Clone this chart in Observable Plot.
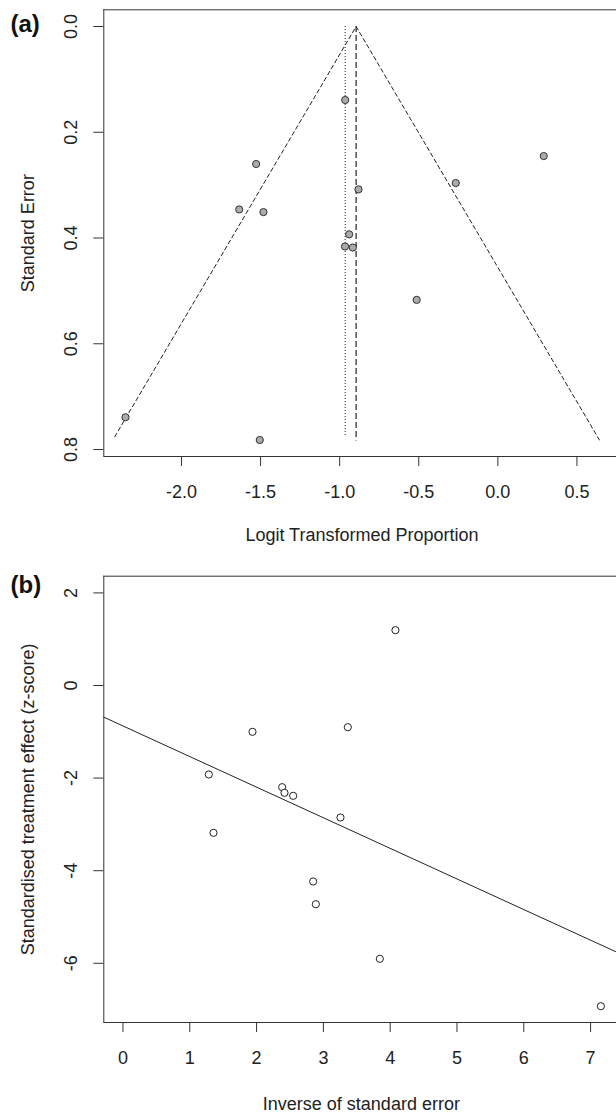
<!DOCTYPE html>
<html><head><meta charset="utf-8">
<script src="https://cdn.jsdelivr.net/npm/d3@7"></script>
<script src="https://cdn.jsdelivr.net/npm/@observablehq/plot@0.6"></script>
<style>
html,body{margin:0;padding:0;background:#fff;}
body{width:616px;height:1115px;overflow:hidden;}
#chart svg{display:block;}
</style></head><body><div id="chart"></div>
<script>
// ---- Panel (a): funnel plot ----
const logitProp = [-1.528, -1.635, -1.482, -0.965, 0.290, -0.266, -0.881, -0.940, -0.966, -0.917, -0.513, -2.354, -1.505];
const stdErr    = [0.260, 0.346, 0.351, 0.139, 0.245, 0.296, 0.308, 0.393, 0.416, 0.418, 0.517, 0.739, 0.782];
const funnelX = [-2.422, -0.896, 0.642];
const funnelY = [0.776, 0, 0.782];
const fixedEst = -0.896, fixedEnd = 0.784;     // dashed vertical line
const randomEst = -0.965, randomEnd = 0.777;   // dotted vertical line
const aXTicks = [-2.0, -1.5, -1.0, -0.5, 0.0, 0.5];
const aYTicks = [0.0, 0.2, 0.4, 0.6, 0.8];
const aXDomain = [-2.491, 0.750];
const aYDomain = [-0.0316, 0.8132];

// ---- Panel (b): Galbraith / regression plot ----
const invSE  = [1.939, 1.285, 2.383, 2.418, 2.548, 4.079, 3.366, 3.256, 1.355, 2.847, 2.887, 3.845, 7.154];
const zScore = [-1.000, -1.922, -2.196, -2.318, -2.383, 1.195, -0.900, -2.851, -3.182, -4.233, -4.724, -5.904, -6.927];
const regX = [-0.287, 7.388];
const regY = [-0.684, -5.757];
const bXTicks = [0, 1, 2, 3, 4, 5, 6, 7];
const bYTicks = [2, 0, -2, -4, -6];
const bXDomain = [-0.287, 7.388];
const bYDomain = [-7.279, 2.361];

const font = "'Liberation Sans', Arial, Helvetica, sans-serif";
const ink = "#333";
const style = {fontFamily: font, fontSize: "18px", color: "#222", background: "white"};

const studiesA = logitProp.map((x, i) => ({x, se: stdErr[i]}));
const funnel = funnelX.map((x, i) => ({x, y: funnelY[i]}));
const studiesB = invSE.map((x, i) => ({x, z: zScore[i]}));
const reg = regX.map((x, i) => ({x, y: regY[i]}));

const plotA = Plot.plot({
  width: 616, height: 560,
  marginLeft: 103.3, marginRight: 0, marginTop: 9.3, marginBottom: 104,
  style,
  x: {domain: aXDomain},
  y: {domain: aYDomain, reverse: true},
  marks: [
    Plot.ruleX([aXDomain[0]], {stroke: ink, strokeWidth: 1}),
    Plot.ruleY([aYDomain[0]], {stroke: ink, strokeWidth: 1}),
    Plot.ruleY([aYDomain[1]], {stroke: ink, strokeWidth: 1}),
    Plot.axisX({ticks: aXTicks, tickSize: 10, tickPadding: 25.4, lineAnchor: "middle", tickFormat: d => d.toFixed(1), label: null, stroke: ink}),
    Plot.axisY({ticks: aYTicks, tickSize: 10, tickPadding: 23, tickRotate: -90, textAnchor: "middle", lineAnchor: "middle", tickFormat: d => d.toFixed(1), label: null, stroke: ink}),
    Plot.line(funnel, {x: "x", y: "y", stroke: "#222", strokeWidth: 1, strokeDasharray: "4,3"}),
    Plot.ruleX([fixedEst], {y1: 0, y2: fixedEnd, stroke: "#222", strokeWidth: 1.2, strokeDasharray: "6,3"}),
    Plot.ruleX([randomEst], {y1: 0, y2: randomEnd, stroke: "#222", strokeWidth: 1, strokeDasharray: "1,2"}),
    Plot.dot(studiesA, {x: "x", y: "se", r: 3.6, fill: "#ababab", stroke: "#333", strokeWidth: 1}),
    Plot.text(["Standard Error"], {text: d => d, frameAnchor: "left", dx: -75.8, rotate: -90, lineAnchor: "middle", textAnchor: "middle"}),
    Plot.text(["Logit Transformed Proportion"], {text: d => d, frameAnchor: "bottom", dy: 78.7, dx: 1.8, lineAnchor: "middle"}),
    Plot.text(["(a)"], {text: d => d, frameAnchor: "top-left", textAnchor: "start", dx: -93.3, dy: 14.3, lineAnchor: "middle", fontWeight: "bold", fontSize: 24, fill: "#111"})
  ]
});

const plotB = Plot.plot({
  width: 616, height: 555,
  marginLeft: 103.3, marginRight: 0, marginTop: 15.7, marginBottom: 93,
  style,
  x: {domain: bXDomain},
  y: {domain: bYDomain},
  marks: [
    Plot.ruleX([bXDomain[0]], {stroke: ink, strokeWidth: 1}),
    Plot.ruleY([bYDomain[0]], {stroke: ink, strokeWidth: 1}),
    Plot.ruleY([bYDomain[1]], {stroke: ink, strokeWidth: 1}),
    Plot.axisX({ticks: bXTicks, tickSize: 10, tickPadding: 25.4, lineAnchor: "middle", tickFormat: d => String(d), label: null, stroke: ink}),
    Plot.axisY({ticks: bYTicks, tickSize: 10, tickPadding: 23, tickRotate: -90, textAnchor: "middle", lineAnchor: "middle", tickFormat: d => String(d), label: null, stroke: ink}),
    Plot.line(reg, {x: "x", y: "y", stroke: "#222", strokeWidth: 1}),
    Plot.dot(studiesB, {x: "x", y: "z", r: 3.6, fill: "white", stroke: "#222", strokeWidth: 1}),
    Plot.text(["Standardised treatment effect (z-score)"], {text: d => d, frameAnchor: "left", dx: -75.8, rotate: -90, lineAnchor: "middle", textAnchor: "middle"}),
    Plot.text(["Inverse of standard error"], {text: d => d, frameAnchor: "bottom", dy: 82, dx: 1.2, lineAnchor: "middle"}),
    Plot.text(["(b)"], {text: d => d, frameAnchor: "top-left", textAnchor: "start", dx: -93.3, dy: 8.7, lineAnchor: "middle", fontWeight: "bold", fontSize: 24, fill: "#111"})
  ]
});

const chart = document.getElementById("chart");
chart.appendChild(plotA);
chart.appendChild(plotB);
</script>
</body></html>
